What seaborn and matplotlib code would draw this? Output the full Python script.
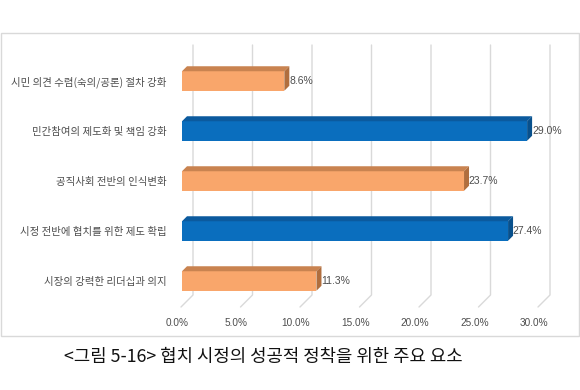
import numpy as np
import matplotlib
matplotlib.use("Agg")
import matplotlib.pyplot as plt
from matplotlib.patches import Polygon, Rectangle
from matplotlib.lines import Line2D
from matplotlib.transforms import ScaledTranslation
import seaborn as sns

# ---- data ----
categories = [
    "시민 의견 수렴(숙의/공론) 절차 강화",
    "민간참여의 제도화 및 책임 강화",
    "공직사회 전반의 인식변화",
    "시정 전반에 협치를 위한 제도 확립",
    "시장의 강력한 리더십과 의지",
]
values = [8.6, 29.0, 23.7, 27.4, 11.3]
value_labels = ["8.6%", "29.0%", "23.7%", "27.4%", "11.3%"]
x_ticks = [0, 5, 10, 15, 20, 25, 30]
x_tick_labels = ["0.0%", "5.0%", "10.0%", "15.0%", "20.0%", "25.0%", "30.0%"]
caption = "<그림 5-16> 협치 시정의 성공적 정착을 위한 주요 요소"

ORANGE = "#F9A66B"
BLUE = "#0A6EBE"
front_colors = [ORANGE, BLUE, ORANGE, BLUE, ORANGE]
top_colors = {ORANGE: "#C98350", BLUE: "#0B5A9E"}
side_colors = {ORANGE: "#B06E3E", BLUE: "#08508C"}
TEXT_GRAY = "#4D4D4D"

sns.set_theme(style="white")
plt.rcParams["font.family"] = ["Noto Sans CJK KR", "DejaVu Sans"]

W, H = 580, 390
fig = plt.figure(figsize=(W / 100, H / 100), dpi=100)
fig.patch.set_facecolor("white")

# front plane of plot
left, right, top, bottom = 182, 539, 56, 306
ax = fig.add_axes([left / W, 1 - bottom / H, (right - left) / W, (bottom - top) / H])
ax.set_facecolor("none")

sns.barplot(x=values, y=categories, hue=categories, palette=front_colors,
            legend=False, width=0.39, orient="h", ax=ax, zorder=3,
            saturation=1)

ax.set_xlim(0, 30)
ax.set_ylim(4.5, -0.5)
for s in ax.spines.values():
    s.set_visible(False)
ax.set_xlabel("")
ax.set_ylabel("")
ax.grid(False)

ax.set_xticks(x_ticks)
ax.set_xticklabels(x_tick_labels, fontsize=7.2, color=TEXT_GRAY,
                   family=["Liberation Sans", "DejaVu Sans"])
ax.tick_params(axis="x", length=0, pad=9)
for lbl in ax.get_xticklabels():
    lbl.set_transform(lbl.get_transform() + ScaledTranslation(-5 / 100, 0, fig.dpi_scale_trans))
ax.tick_params(axis="y", length=0, pad=11)
for lbl in ax.get_yticklabels():
    lbl.set_fontsize(7.5)
    lbl.set_color(TEXT_GRAY)

to_disp = ax.transData.transform
to_data = ax.transData.inverted().transform

# back wall gridlines and floor diagonals
D = 11
y_top_disp = to_disp((0, -0.5))[1]
y_bot_disp = to_disp((0, 4.5))[1]
for xv in x_ticks:
    xd = to_disp((xv, 0))[0]
    p1 = to_data((xd + D, y_top_disp + D))
    p2 = to_data((xd + D, y_bot_disp + D))
    p3 = to_data((xd - 1, y_bot_disp - 1))
    ax.add_line(Line2D([p1[0], p2[0], p3[0]], [p1[1], p2[1], p3[1]],
                       color="#D9D9D9", lw=1.0, zorder=1, clip_on=False))

# 3D faces on bars
d = 5
for bar in ax.patches:
    fc = matplotlib.colors.to_hex(bar.get_facecolor())
    key = ORANGE if fc.lower() == ORANGE.lower() else BLUE
    x0, y0 = bar.get_x(), bar.get_y()
    x1, y1 = x0 + bar.get_width(), y0 + bar.get_height()
    (X0, Ya), (X1, Yb) = to_disp((x0, y0)), to_disp((x1, y1))
    Ytop, Ybot = max(Ya, Yb), min(Ya, Yb)
    topface = [(X0, Ytop), (X0 + d, Ytop + d), (X1 + d, Ytop + d), (X1, Ytop)]
    side = [(X1, Ytop), (X1 + d, Ytop + d), (X1 + d, Ybot + d), (X1, Ybot)]
    ax.add_patch(Polygon(to_data(np.array(topface)), closed=True,
                         facecolor=top_colors[key], edgecolor="none", zorder=3, clip_on=False))
    ax.add_patch(Polygon(to_data(np.array(side)), closed=True,
                         facecolor=side_colors[key], edgecolor="none", zorder=3, clip_on=False))
    bar.set_edgecolor("none")

# value labels
for cont in ax.containers:
    idx = [i for i, c in enumerate(categories) if c == cont.get_label()]
    if not idx:
        continue
    ax.bar_label(cont, labels=[value_labels[i] for i in idx], padding=3.5,
                 fontsize=7.5, color=TEXT_GRAY,
                 family=["Liberation Sans", "DejaVu Sans"])

if not ax.texts:
    for i, cont in enumerate(ax.containers):
        ax.bar_label(cont, labels=[value_labels[i]], padding=3.5, fontsize=7.5,
                     color=TEXT_GRAY, family=["Liberation Sans", "DejaVu Sans"])

# outer frame
fig.patches.append(Rectangle((0.5 / W, 1 - 336 / H), 578.5 / W, 303 / H,
                             transform=fig.transFigure, fill=False,
                             edgecolor="#D9D9D9", lw=1.0))

fig.text(263 / W, 1 - 357 / H, caption, ha="center", va="center",
         fontsize=12.8, color="#111111")

fig.savefig("out.png", dpi=100)
